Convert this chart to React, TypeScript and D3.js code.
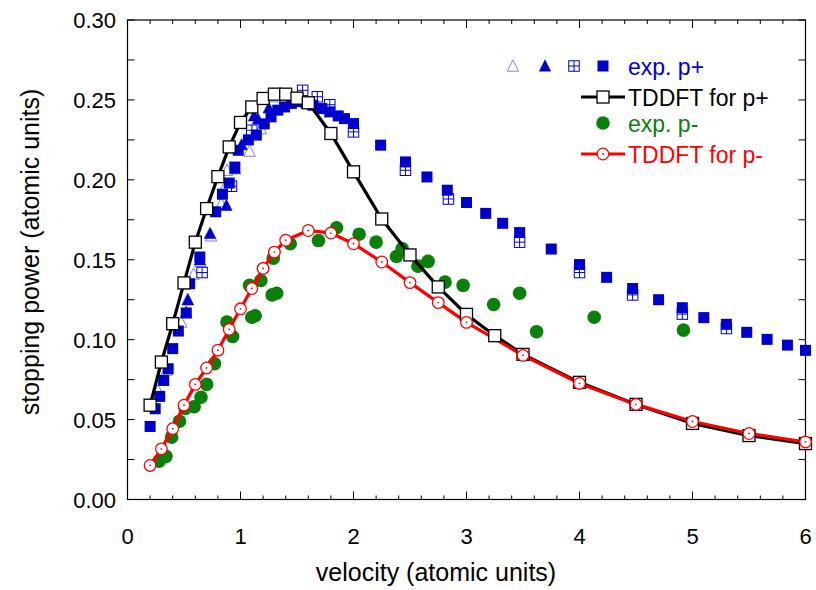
import React from "react";
import * as d3 from "d3";

// ---- data ----
const tddftPlusV = [0.2,0.3,0.4,0.5,0.6,0.7,0.8,0.9,1.0,1.1,1.2,1.3,1.4,1.5,1.6,1.8,2.0,2.25,2.5,2.75,3.0,3.25,3.5,4.0,4.5,5.0,5.5,6.0];
const tddftPlusS = [0.059,0.086,0.110,0.1355,0.161,0.182,0.202,0.2206,0.2359,0.2456,0.2509,0.2536,0.2536,0.2511,0.2482,0.229,0.205,0.1755,0.153,0.133,0.1158,0.1025,0.0908,0.0733,0.0595,0.0476,0.040,0.035];

const tddftMinusV = [0.2,0.3,0.4,0.5,0.6,0.7,0.8,0.9,1.0,1.1,1.2,1.3,1.4,1.6,1.8,2.0,2.25,2.5,2.75,3.0,3.5,4.0,4.5,5.0,5.5,6.0];
const tddftMinusS = [0.0213,0.0317,0.0443,0.059,0.072,0.0823,0.0934,0.1065,0.1193,0.132,0.1446,0.1548,0.1622,0.1683,0.1667,0.160,0.1486,0.1357,0.1232,0.1108,0.0902,0.0726,0.0595,0.0488,0.0413,0.036];

const openTriV = [0.27,0.345,0.475,0.53,0.585,0.645,0.74,0.83,0.865,0.88,1.08,1.18,1.30];
const openTriS = [0.068,0.081,0.111,0.125,0.141,0.149,0.165,0.185,0.196,0.206,0.218,0.232,0.252];

const filledTriV = [0.52,0.535,0.64,0.73,0.875,0.95,1.01,1.12,1.155,1.25];
const filledTriS = [0.117,0.125,0.150,0.1665,0.184,0.207,0.222,0.240,0.238,0.245];

const boxedV = [0.66,0.92,1.1,1.55,1.68,1.79,2.0,2.46,2.84,3.47,4.0,4.47,4.91,5.3];
const boxedS = [0.142,0.196,0.231,0.256,0.252,0.247,0.230,0.206,0.188,0.161,0.142,0.128,0.116,0.107];

const filledSqV = [0.20,0.245,0.285,0.32,0.36,0.40,0.45,0.52,0.55,0.64,0.78,0.84,0.90,0.95,0.98,1.07,1.14,1.21,1.27,1.33,1.39,1.45,1.52,1.58,1.64,1.72,1.79,1.865,1.92,2.0,2.24,2.46,2.65,2.83,3.0,3.17,3.32,3.47,3.75,4.0,4.24,4.47,4.70,4.91,5.10,5.30,5.48,5.66,5.84,6.0];
const filledSqS = [0.0457,0.0568,0.0645,0.0745,0.0818,0.0944,0.1054,0.1167,0.135,0.1517,0.180,0.191,0.198,0.208,0.2185,0.225,0.228,0.235,0.2394,0.2436,0.2456,0.2478,0.249,0.248,0.2467,0.2446,0.2425,0.240,0.2383,0.2352,0.2217,0.2112,0.2018,0.1935,0.1858,0.179,0.1728,0.167,0.1567,0.147,0.139,0.132,0.125,0.120,0.1138,0.1096,0.1046,0.1002,0.0966,0.0933];

const greenV = [0.28,0.34,0.39,0.46,0.51,0.59,0.65,0.70,0.77,0.88,0.93,1.08,1.10,1.13,1.18,1.28,1.32,1.29,1.44,1.69,1.85,2.05,2.20,2.38,2.43,2.57,2.66,2.81,2.97,3.24,3.47,3.62,4.13,4.92];
const greenS = [0.024,0.027,0.039,0.049,0.057,0.058,0.064,0.072,0.085,0.111,0.102,0.134,0.114,0.115,0.137,0.128,0.129,0.151,0.160,0.162,0.170,0.166,0.161,0.152,0.157,0.146,0.149,0.136,0.134,0.122,0.129,0.105,0.114,0.106];

const xTicks = [0,1,2,3,4,5,6];
const yTicks = [0,0.05,0.10,0.15,0.20,0.25,0.30];

const BLUE = "#0000cc";
const LIGHTBLUE = "#7f7fff";
const GREEN = "#0a7f0a";
const RED = "#ff0000";
const FONT = "'Liberation Sans', Arial, Helvetica, sans-serif";

const zip = (a: number[], b: number[]) => a.map((v, i) => [v, b[i]] as [number, number]);

function triPath(cx: number, cy: number, s: number) {
  const h = s * 0.9;
  return `M${cx},${cy - h / 2 - 1}L${cx + s / 2},${cy + h / 2}L${cx - s / 2},${cy + h / 2}Z`;
}

function OpenTri({ cx, cy }: { cx: number; cy: number }) {
  return <path d={triPath(cx, cy, 11.5)} fill="none" stroke={LIGHTBLUE} strokeWidth={1} />;
}
function FilledTri({ cx, cy }: { cx: number; cy: number }) {
  return <path d={triPath(cx, cy, 11.5)} fill={BLUE} stroke={BLUE} strokeWidth={0.5} />;
}
function BoxedSq({ cx, cy }: { cx: number; cy: number }) {
  const s = 10.5;
  return (
    <g stroke={BLUE} strokeWidth={1} fill="white">
      <rect x={cx - s / 2} y={cy - s / 2} width={s} height={s} />
      <line x1={cx} x2={cx} y1={cy - s / 2} y2={cy + s / 2} />
      <line x1={cx - s / 2} x2={cx + s / 2} y1={cy} y2={cy} />
    </g>
  );
}
function FilledSq({ cx, cy }: { cx: number; cy: number }) {
  const s = 11;
  return <rect x={cx - s / 2} y={cy - s / 2} width={s} height={s} fill={BLUE} />;
}
function GreenDot({ cx, cy }: { cx: number; cy: number }) {
  return <circle cx={cx} cy={cy} r={6.8} fill={GREEN} />;
}
function OpenSq({ cx, cy }: { cx: number; cy: number }) {
  const s = 12;
  return <rect x={cx - s / 2} y={cy - s / 2} width={s} height={s} fill="white" stroke="black" strokeWidth={1.3} />;
}
function RedCirc({ cx, cy }: { cx: number; cy: number }) {
  return (
    <g>
      <circle cx={cx} cy={cy} r={5.8} fill="white" stroke={RED} strokeWidth={1.3} />
      <circle cx={cx} cy={cy} r={0.9} fill={RED} />
    </g>
  );
}

export default function App() {
  const W = 816, H = 590;
  const x = d3.scaleLinear().domain([0, 6]).range([127.5, 805.5]);
  const y = d3.scaleLinear().domain([0, 0.3]).range([499.5, 20]);
  const line = d3.line<[number, number]>().x(d => x(d[0])).y(d => y(d[1]));

  const xMinor = d3.range(0, 6.0001, 0.2).map(v => +v.toFixed(2));
  const yMinor = d3.range(0, 0.30001, 0.025).map(v => +v.toFixed(3));
  const [x0, x1] = x.range();
  const [y0, y1] = y.range();

  const tp = zip(tddftPlusV, tddftPlusS);
  const tm = zip(tddftMinusV, tddftMinusS);

  return (
    <svg width={W} height={H} style={{ position: "absolute", left: 0, top: 0, background: "white" }} fontFamily={FONT}>
      <rect x={0} y={0} width={W} height={H} fill="white" />
      {/* ticks */}
      <g stroke="black" strokeWidth={1}>
        {xMinor.map((v, i) => {
          const major = Math.abs(v - Math.round(v)) < 1e-6;
          const L = major ? 8 : 4;
          return (
            <g key={"xt" + i}>
              <line x1={x(v)} x2={x(v)} y1={y0} y2={y0 - L} />
              <line x1={x(v)} x2={x(v)} y1={y1} y2={y1 + L} />
            </g>
          );
        })}
        {yMinor.map((v, i) => {
          const L = 7;
          return (
            <g key={"yt" + i}>
              <line x1={x0} x2={x0 + L} y1={y(v)} y2={y(v)} />
              <line x1={x1} x2={x1 - L} y1={y(v)} y2={y(v)} />
            </g>
          );
        })}
        <rect x={x0} y={y1} width={x1 - x0} height={y0 - y1} fill="none" strokeWidth={1.2} />
      </g>
      {/* tick labels */}
      <g fontSize={22} fill="black">
        {xTicks.map(v => (
          <text key={"xl" + v} x={x(v)} y={544} textAnchor="middle">{v}</text>
        ))}
        {yTicks.map(v => (
          <text key={"yl" + v} x={116} y={y(v) + 8} textAnchor="end">{v.toFixed(2)}</text>
        ))}
      </g>
      <text x={436} y={581} textAnchor="middle" fontSize={25}>velocity (atomic units)</text>
      <text transform={`translate(39,252) rotate(-90)`} textAnchor="middle" fontSize={25}>stopping power (atomic units)</text>

      {/* exp p+ */}
      {zip(openTriV, openTriS).map((d, i) => <OpenTri key={"ot" + i} cx={x(d[0])} cy={y(d[1])} />)}
      {zip(filledTriV, filledTriS).map((d, i) => <FilledTri key={"ft" + i} cx={x(d[0])} cy={y(d[1])} />)}
      {zip(boxedV, boxedS).map((d, i) => <BoxedSq key={"bs" + i} cx={x(d[0])} cy={y(d[1])} />)}
      {zip(filledSqV, filledSqS).map((d, i) => <FilledSq key={"fs" + i} cx={x(d[0])} cy={y(d[1])} />)}

      {/* exp p- */}
      {zip(greenV, greenS).map((d, i) => <GreenDot key={"g" + i} cx={x(d[0])} cy={y(d[1])} />)}

      {/* TDDFT lines */}
      <path d={line(tp) || ""} fill="none" stroke="black" strokeWidth={3.2} />
      <path d={line(tm) || ""} fill="none" stroke={RED} strokeWidth={3.2} />
      {tp.map((d, i) => <OpenSq key={"os" + i} cx={x(d[0])} cy={y(d[1])} />)}
      {tm.map((d, i) => <RedCirc key={"rc" + i} cx={x(d[0])} cy={y(d[1])} />)}

      {/* legend */}
      <g fontSize={23}>
        <OpenTri cx={513} cy={66} />
        <FilledTri cx={545} cy={66} />
        <BoxedSq cx={574} cy={66} />
        <FilledSq cx={603} cy={66} />
        <text x={628} y={75} fill={BLUE}>exp. p+</text>

        <line x1={581} x2={625} y1={97} y2={97} stroke="black" strokeWidth={3.2} />
        <OpenSq cx={603} cy={97} />
        <text x={628} y={106} fill="black">TDDFT for p+</text>

        <GreenDot cx={603} cy={123} />
        <text x={628} y={132} fill={GREEN}>exp. p-</text>

        <line x1={581} x2={625} y1={154} y2={154} stroke={RED} strokeWidth={3.2} />
        <RedCirc cx={603} cy={154} />
        <text x={628} y={163} fill={RED}>TDDFT for p-</text>
      </g>
    </svg>
  );
}
